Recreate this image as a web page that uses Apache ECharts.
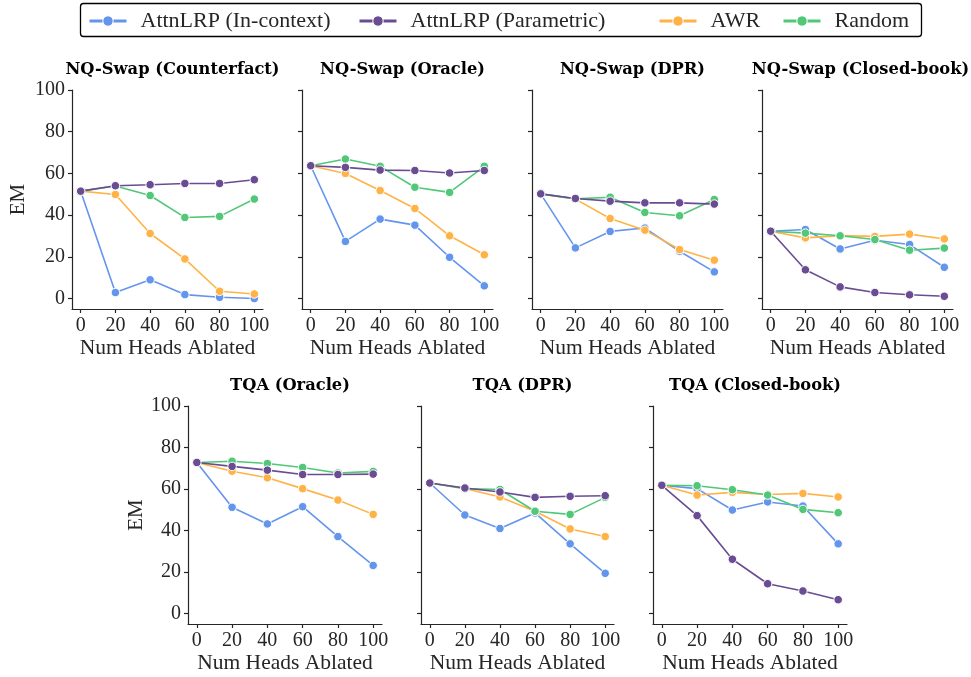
<!DOCTYPE html>
<html><head><meta charset="utf-8">
<script src="https://cdn.jsdelivr.net/npm/echarts@6/dist/echarts.min.js"></script>
<style>html,body{margin:0;padding:0;background:#fff}#c{width:971px;height:677px}</style>
</head><body><div id="c"></div>
<script>
// ---- data ----
const xValues = [0, 20, 40, 60, 80, 100];
const yTicks = [0, 20, 40, 60, 80, 100];
const panelTitles = ['NQ-Swap (Counterfact)', 'NQ-Swap (Oracle)', 'NQ-Swap (DPR)', 'NQ-Swap (Closed-book)',
  'TQA (Oracle)', 'TQA (DPR)', 'TQA (Closed-book)'];
const seriesNames = ['AttnLRP (In-context)', 'AttnLRP (Parametric)', 'AWR', 'Random'];
// one row per panel, in panelTitles order
const inContext = [
  [51.5, 2.9, 9.0, 1.9, 0.6, 0.0],
  [63.7, 27.4, 38.1, 35.2, 19.8, 6.1],
  [50.2, 24.3, 32.2, 33.8, 22.7, 12.8],
  [32.3, 33.1, 23.8, 28.0, 25.9, 15.0],
  [72.8, 51.2, 43.2, 51.5, 37.1, 23.2],
  [62.9, 47.5, 41.0, 48.5, 33.6, 19.4],
  [61.8, 60.2, 49.9, 53.8, 51.8, 33.6]
];
const parametric = [
  [51.5, 54.1, 54.6, 55.2, 55.2, 57.0],
  [63.7, 62.9, 61.6, 61.4, 60.2, 61.4],
  [50.2, 48.0, 46.7, 45.9, 45.9, 45.3],
  [32.3, 13.8, 5.6, 2.9, 1.8, 1.1],
  [72.8, 70.9, 69.1, 67.0, 67.0, 67.2],
  [62.9, 60.5, 58.6, 56.0, 56.5, 56.8],
  [61.8, 47.2, 26.2, 14.4, 10.9, 6.7]
];
const awr = [
  [51.5, 49.9, 31.2, 19.0, 3.5, 2.2],
  [63.7, 60.0, 51.8, 43.2, 30.1, 21.0],
  [50.2, 47.7, 38.4, 32.8, 23.5, 18.4],
  [32.3, 29.1, 30.2, 29.8, 30.9, 28.6],
  [72.8, 68.6, 65.4, 60.2, 54.7, 47.8],
  [62.9, 60.3, 56.2, 49.3, 40.8, 37.1],
  [61.8, 57.1, 58.4, 57.4, 57.9, 56.2]
];
const random = [
  [51.5, 54.0, 49.4, 38.9, 39.4, 47.7],
  [63.7, 66.9, 63.4, 53.4, 50.9, 63.4],
  [50.2, 47.8, 48.6, 41.3, 39.7, 47.5],
  [32.3, 31.4, 30.1, 28.3, 23.2, 24.2],
  [72.8, 73.4, 72.3, 70.4, 67.7, 68.5],
  [62.9, 60.2, 59.8, 49.3, 47.8, 56.0],
  [61.8, 61.6, 59.7, 57.1, 50.2, 48.6]
];

// ---- style / layout ----
const colors = {'AttnLRP (In-context)': '#6495ED', 'AttnLRP (Parametric)': '#6A4C93', 'AWR': '#FFB347', 'Random': '#50C878'};
const seriesData = {'AttnLRP (In-context)': inContext, 'AttnLRP (Parametric)': parametric, 'AWR': awr, 'Random': random};
const drawOrder = ['AttnLRP (In-context)', 'AWR', 'Random', 'AttnLRP (Parametric)'];
const FONT = 'Liberation Serif';
const TXT = '#262626';
const grids = [
  {left: 72, top: 90, width: 191, height: 219},
  {left: 302, top: 90, width: 191, height: 219},
  {left: 532, top: 90, width: 191, height: 219},
  {left: 762, top: 90, width: 191, height: 219},
  {left: 188, top: 406, width: 194, height: 218},
  {left: 421, top: 406, width: 193, height: 218},
  {left: 653, top: 406, width: 194, height: 218}
];
const firstInRow = [0, 4];

const axisLineStyle = {color: TXT, width: 1.2};
const option = {
  animation: false,
  backgroundColor: '#fff',
  title: [], grid: [], xAxis: [], yAxis: [], series: [], legend: [],
  graphic: [{type: 'rect', shape: {x: 80.5, y: 3.5, width: 841, height: 33, r: 3},
    style: {fill: 'none', stroke: '#000', lineWidth: 1.3}, z: 10}]
};

grids.forEach((g, i) => {
  option.grid.push(g);
  option.title.push({
    text: panelTitles[i], left: g.left + g.width / 2 - (i === 3 ? 2 : 0), top: g.top - 33, textAlign: 'center',
    textStyle: {fontFamily: 'DejaVu Serif', fontWeight: 'bold', fontSize: 16.3, color: '#000'}
  });
  option.xAxis.push({
    type: 'value', gridIndex: i, min: -5, max: 105,
    name: 'Num Heads Ablated', nameLocation: 'middle', nameGap: 26,
    nameTextStyle: {fontFamily: FONT, fontSize: 21.5, color: TXT},
    axisLine: {show: true, onZero: false, lineStyle: axisLineStyle},
    axisTick: {show: true, length: 4, lineStyle: axisLineStyle, customValues: xValues},
    axisLabel: {fontFamily: FONT, fontSize: 20, color: TXT, margin: 7, customValues: xValues},
    splitLine: {show: false}
  });
  const showY = firstInRow.includes(i);
  option.yAxis.push({
    type: 'value', gridIndex: i, min: -5, max: 100,
    name: showY ? 'EM' : '', nameLocation: 'middle', nameGap: i === 0 ? 43 : 41,
    nameTextStyle: {fontFamily: FONT, fontSize: 21, color: TXT},
    axisLine: {show: true, onZero: false, lineStyle: axisLineStyle},
    axisTick: {show: true, length: 4, lineStyle: axisLineStyle, customValues: yTicks},
    axisLabel: {show: showY, fontFamily: FONT, fontSize: 20, color: TXT, margin: 7, customValues: yTicks},
    splitLine: {show: false}
  });
  drawOrder.forEach((name, k) => {
    option.series.push({
      type: 'line', name: name, xAxisIndex: i, yAxisIndex: i, z: 2 + k,
      data: xValues.map((x, j) => [x, seriesData[name][i][j]]),
      symbol: 'circle', symbolSize: 8.5, color: colors[name],
      lineStyle: {width: 1.6, color: colors[name]},
      itemStyle: {color: colors[name], borderColor: '#fff', borderWidth: 1},
      emphasis: {disabled: true}
    });
  });
});

const legendLefts = [88, 358, 658, 782];
seriesNames.forEach((name, k) => {
  option.legend.push({
    data: [name], left: legendLefts[k], top: 10, itemWidth: 37, itemHeight: 13,
    itemStyle: {borderColor: '#fff', borderWidth: 1},
    lineStyle: {width: 3},
    itemGap: 0, padding: 0, textStyle: {fontFamily: FONT, fontSize: 22, color: TXT, padding: [0, 0, 0, 9]},
    selectedMode: false
  });
});

const chart = echarts.init(document.getElementById('c'), null, {renderer: 'canvas'});
chart.setOption(option);
</script>
</body></html>
